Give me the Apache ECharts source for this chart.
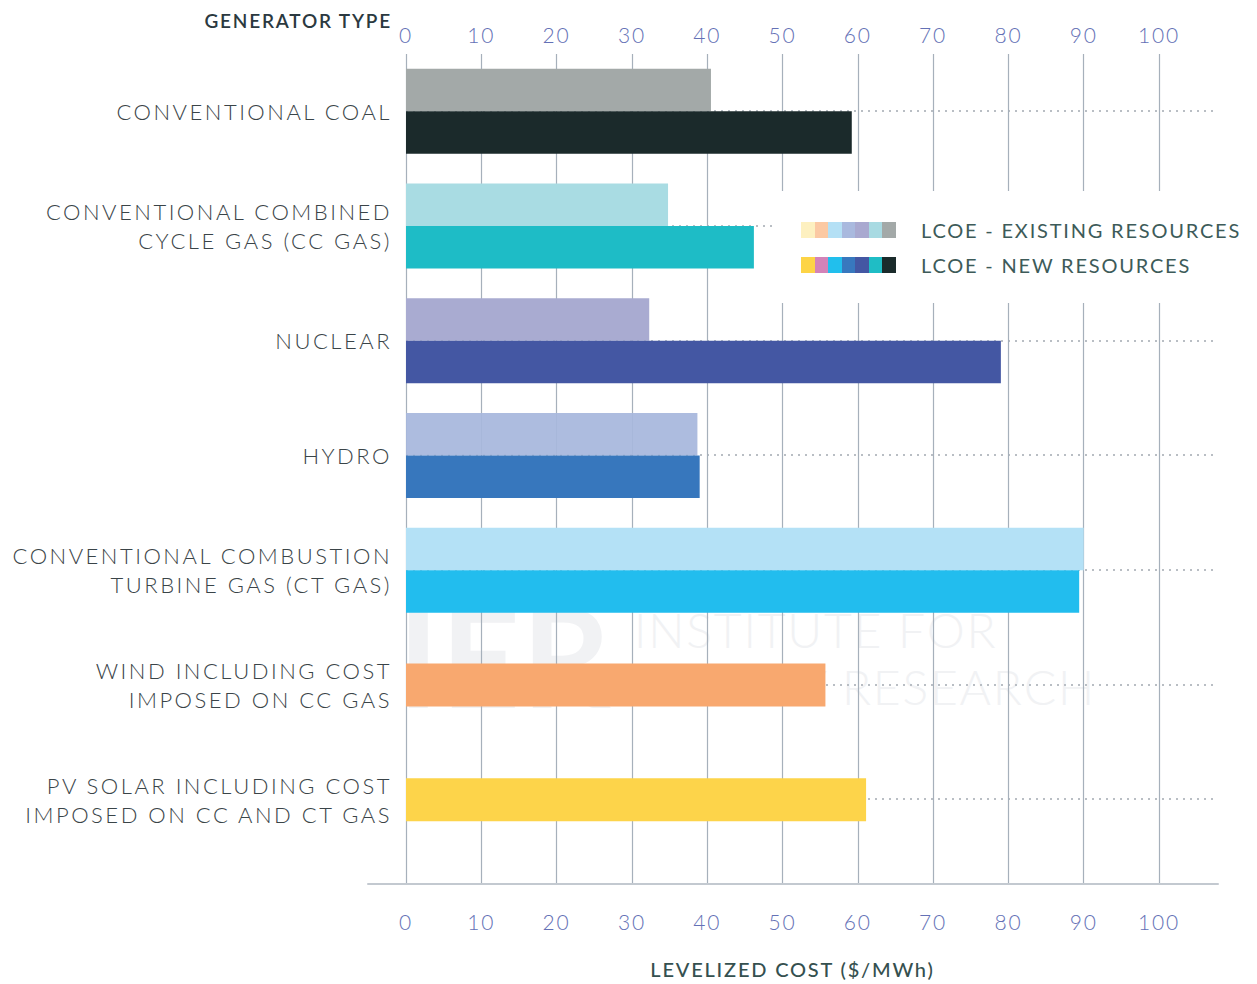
<!DOCTYPE html>
<html>
<head>
<meta charset="utf-8">
<script src="https://cdn.jsdelivr.net/npm/echarts@6/dist/echarts.min.js"></script>
<style>
html,body{margin:0;padding:0;background:#fff;}
#chart{width:1257px;height:984px;}
#chart text{letter-spacing:1.8px;}
#chart text[style*="22px"]{letter-spacing:2.5px;}
</style>
</head>
<body>
<div id="chart"></div>
<script>
// ---- data ----
const categories = [
  'CONVENTIONAL COAL',
  'CONVENTIONAL COMBINED\nCYCLE GAS (CC GAS)',
  'NUCLEAR',
  'HYDRO',
  'CONVENTIONAL COMBUSTION\nTURBINE GAS (CT GAS)',
  'WIND INCLUDING COST\nIMPOSED ON CC GAS',
  'PV SOLAR INCLUDING COST\nIMPOSED ON CC AND CT GAS'
];
const existingValues = [40.5, 34.8, 32.3, 38.7, 90.0, null, null];
const newValues = [59.2, 46.2, 79.0, 39.0, 89.4, 55.7, 61.1];
const axisTicks = [0, 10, 20, 30, 40, 50, 60, 70, 80, 90, 100];

// ---- styles ----
const existingColors = ['#a3a9a8', '#a9dce3', '#a9abd1', '#a7b7dd', '#b4e1f6', '#fbc9a3', '#fdf0c0'];
const newColors = ['#1b2a2b', '#1ebcc6', '#4457a3', '#3777bd', '#22bdee', '#f8a86f', '#fdd44a'];
const existingOpacity = [1, 1, 1, 0.93, 1, 1, 1];
const legendExistingColors = ['#fdf0c0', '#fbc9a3', '#b4e0f5', '#a9b9de', '#a9a9d0', '#a8dae2', '#a3a9a8'];
const legendNewColors = ['#fdd446', '#d383b8', '#21bfed', '#3878be', '#4457a3', '#1fbdc5', '#1a2b2b'];

const FONT = 'Lato, "Open Sans", sans-serif';
const TICK_COLOR = '#6471b6';

function swatchIcon(colors) {
  const w = 95, h = 16, n = colors.length, cw = w / n;
  let rects = '';
  colors.forEach((c, i) => {
    rects += '<rect x="' + (i * cw).toFixed(2) + '" y="0" width="' + (cw + 0.5).toFixed(2) + '" height="' + h + '" fill="' + c + '"/>';
  });
  const svg = '<svg xmlns="http://www.w3.org/2000/svg" width="' + w + '" height="' + h + '" viewBox="0 0 ' + w + ' ' + h + '" shape-rendering="crispEdges">' + rects + '</svg>';
  return 'image://data:image/svg+xml;charset=utf-8,' + encodeURIComponent(svg);
}

// build series data
const pairedExisting = categories.map((c, i) => existingValues[i] == null ? null : {
  value: existingValues[i], itemStyle: { color: existingColors[i], opacity: existingOpacity[i] }
});
const pairedNew = categories.map((c, i) => existingValues[i] == null ? null : {
  value: newValues[i], itemStyle: { color: newColors[i] }
});
const singleNew = categories.map((c, i) => existingValues[i] != null ? null : {
  value: newValues[i], itemStyle: { color: newColors[i] }
});

const chart = echarts.init(document.getElementById('chart'), null, { renderer: 'svg' });

const option = {
  backgroundColor: '#ffffff',
  animation: false,
  textStyle: { fontFamily: FONT },
  graphic: [
    { type: 'text', left: 398, top: 585, z: -10,
      style: { text: 'IER', font: 'bold 138px ' + FONT, fill: '#f1f2f4' } },
    { type: 'text', left: 634, top: 601, z: -10,
      style: { text: 'INSTITUTE FOR\nENERGY RESEARCH', font: '300 48px ' + FONT, fill: '#f1f2f4', lineHeight: 57 } }
  ],
  legend: {
    orient: 'vertical',
    left: 776, top: 191,
    padding: [29, 30, 28, 25],
    backgroundColor: '#ffffff',
    itemWidth: 95, itemHeight: 16, itemGap: 15,
    selectedMode: false,
    textStyle: { fontFamily: FONT, fontSize: 20, color: '#3d5b59', padding: [0, 0, 0, 20] },
    data: [
      { name: 'LCOE - EXISTING RESOURCES', icon: swatchIcon(legendExistingColors) },
      { name: 'LCOE - NEW RESOURCES', icon: swatchIcon(legendNewColors) }
    ]
  },
  grid: [
    { left: 406, right: 98, top: 54, height: 803 },
    { left: 406, right: 98, top: 54, bottom: 100 },
    { left: 406, right: 39, top: 111, height: 688 },
    { left: 368, right: 39, top: 54, bottom: 100 }
  ],
  xAxis: [
    { gridIndex: 0, type: 'value', position: 'top', min: axisTicks[0], max: axisTicks[axisTicks.length - 1], interval: 10,
      axisLine: { show: false }, axisTick: { show: false }, splitLine: { show: false },
      axisLabel: { color: TICK_COLOR, fontSize: 21, fontWeight: 300, margin: 9 } },
    { gridIndex: 1, type: 'value', position: 'bottom', min: axisTicks[0], max: axisTicks[axisTicks.length - 1], interval: 10,
      axisLine: { show: false }, axisTick: { show: false },
      splitLine: { show: true, lineStyle: { color: '#a6b0bb', width: 1.2 } },
      axisLabel: { color: TICK_COLOR, fontSize: 21, fontWeight: 300, margin: 28 },
      name: 'LEVELIZED COST ($/MWh)', nameLocation: 'middle', nameGap: 86,
      nameTextStyle: { color: '#35504f', fontSize: 20, fontWeight: 500, verticalAlign: 'middle', padding: [0, 0, 0, 20] } },
    { gridIndex: 2, type: 'value', min: 0, max: 1, show: false },
    { gridIndex: 3, type: 'value', min: 0, max: 1,
      axisLine: { show: true, lineStyle: { color: '#c3c9d0', width: 2 } },
      axisTick: { show: false }, axisLabel: { show: false }, splitLine: { show: false } }
  ],
  yAxis: [
    { gridIndex: 0, type: 'category', inverse: true, data: categories,
      axisLine: { show: false }, axisTick: { show: false },
      axisLabel: { color: '#3a4448', fontSize: 22, fontWeight: 300, margin: 14, lineHeight: 29, align: 'right' },
      name: 'GENERATOR TYPE', nameLocation: 'start', nameGap: 34,
      nameTextStyle: { color: '#2b3940', fontSize: 19, fontWeight: 600, align: 'right', verticalAlign: 'middle', padding: [0, 14, 0, 0] } },
    { gridIndex: 0, type: 'category', inverse: true, data: categories, show: false },
    { gridIndex: 2, type: 'category', inverse: true, boundaryGap: false, data: categories,
      axisLine: { show: false }, axisTick: { show: false }, axisLabel: { show: false },
      splitLine: { show: true, lineStyle: { color: '#b9bec4', width: 2, type: [2, 5] } } },
    { gridIndex: 1, type: 'value', min: 0, max: 1, show: false },
    { gridIndex: 3, type: 'value', min: 0, max: 1, show: false }
  ],
  series: [
    { name: 'LCOE - EXISTING RESOURCES', type: 'bar', xAxisIndex: 0, yAxisIndex: 0,
      barWidth: 42.5, barGap: '0%', data: pairedExisting },
    { name: 'LCOE - NEW RESOURCES', type: 'bar', xAxisIndex: 0, yAxisIndex: 0,
      barWidth: 42.5, barGap: '0%', data: pairedNew },
    { name: 'LCOE - NEW RESOURCES', type: 'bar', xAxisIndex: 0, yAxisIndex: 1,
      barWidth: 43, data: singleNew }
  ]
};
chart.setOption(option);
</script>
</body>
</html>
